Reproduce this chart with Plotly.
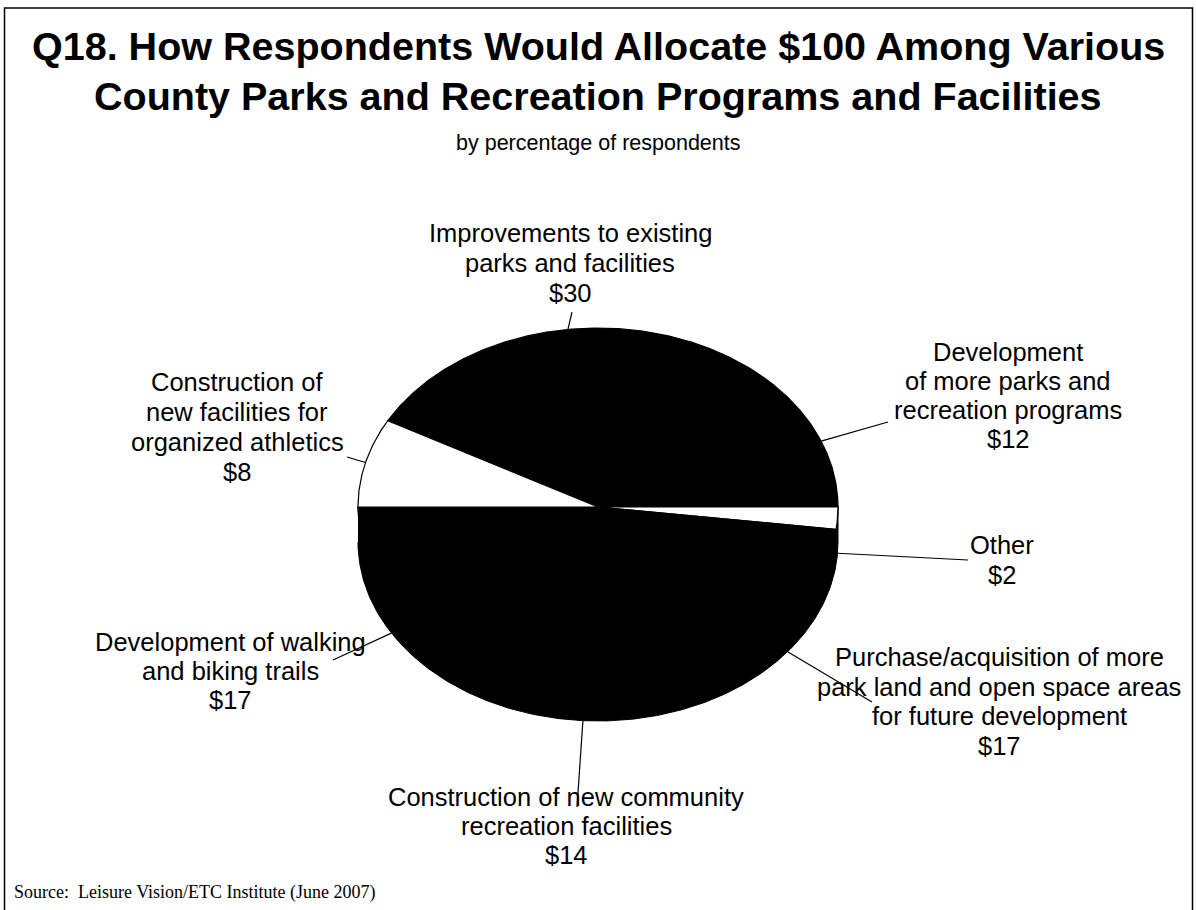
import numpy as np
import plotly.graph_objects as go

# ---------------- data ----------------
categories = [
    "Improvements to existing\nparks and facilities",
    "Development\nof more parks and\nrecreation programs",
    "Other",
    "Purchase/acquisition of more\npark land and open space areas\nfor future development",
    "Construction of new community\nrecreation facilities",
    "Development of walking\nand biking trails",
    "Construction of\nnew facilities for\norganized athletics",
]
values = [30, 12, 2, 17, 14, 17, 8]

title_lines = [
    "Q18. How Respondents Would Allocate $100 Among Various",
    "County Parks and Recreation Programs and Facilities",
]
subtitle = "by percentage of respondents"
source = "Source:  Leisure Vision/ETC Institute (June 2007)"

# ---------------- styling / layout ----------------
slice_colors = ["black", "black", "white", "black", "black", "black", "white"]
W, H = 1196, 910
CX, CY, RX, RY, DEPTH = 598, 507, 240, 179, 35
START_ANGLE = 151.2  # degrees, counter-clockwise from 3 o'clock; slices run clockwise

# label placement: (center x, first line y, line pitch)
label_pos = [
    (570, 233, 30),
    (1008, 352, 29),
    (1002, 545, 30),
    (999, 657, 29.5),
    (566, 797, 29),
    (230, 642, 29),
    (237, 382, 30),
]
# outer end of each leader line
leader_end = [
    (572, 312),
    (888, 422),
    (968, 560),
    (872, 702),
    (577, 807),
    (333, 660),
    (347, 457),
]

LABEL_FONT = dict(family="Liberation Sans, Arial, sans-serif", size=25.5, color="black")

fig = go.Figure()

# 3D side wall of the pie (lower half)
t = np.linspace(np.pi, 2 * np.pi, 300)
top_x = CX + RX * np.cos(t)
top_y = CY - RY * np.sin(t)
fig.add_trace(go.Scatter(
    x=np.concatenate([top_x, top_x[::-1]]),
    y=np.concatenate([top_y, top_y[::-1] + DEPTH]),
    fill="toself", fillcolor="black", mode="lines",
    line=dict(color="black", width=1), hoverinfo="skip", showlegend=False,
))

total = float(sum(values))
cum = 0.0
annotations = []
for name, v, col, (lx, ly, pitch), (ex, ey) in zip(categories, values, slice_colors, label_pos, leader_end):
    a0 = START_ANGLE - cum / total * 360.0
    a1 = a0 - v / total * 360.0
    cum += v
    tt = np.radians(np.linspace(a0, a1, max(3, int(abs(a1 - a0) * 3))))
    xs = np.concatenate([[CX], CX + RX * np.cos(tt), [CX]])
    ys = np.concatenate([[CY], CY - RY * np.sin(tt), [CY]])
    fig.add_trace(go.Scatter(
        x=xs, y=ys, fill="toself", fillcolor=col, mode="lines",
        line=dict(color="black", width=1.2), name=name.replace("\n", " "),
        hoverinfo="name", showlegend=False,
    ))
    # leader line from slice mid-angle on the rim
    mid = np.radians((a0 + a1) / 2.0)
    sx = CX + RX * np.cos(mid)
    sy = CY - RY * np.sin(mid) + (DEPTH if np.sin(mid) < 0 else 0)
    fig.add_trace(go.Scatter(
        x=[sx, ex], y=[sy, ey], mode="lines",
        line=dict(color="black", width=1.2), hoverinfo="skip", showlegend=False,
    ))
    lines = name.split("\n") + [f"${v:g}"]
    for i, txt in enumerate(lines):
        annotations.append(dict(
            x=lx, y=ly + i * pitch, xref="x", yref="y", text=txt,
            showarrow=False, xanchor="center", yanchor="middle", font=LABEL_FONT,
        ))

# title, subtitle, source
for i, txt in enumerate(title_lines):
    annotations.append(dict(
        x=598, y=46 + i * 50, xref="x", yref="y", text=f"<b>{txt}</b>",
        showarrow=False, xanchor="center", yanchor="middle",
        font=dict(family="Liberation Sans, Arial, sans-serif", size=39.5, color="black"),
    ))
annotations.append(dict(
    x=598, y=143, xref="x", yref="y", text=subtitle, showarrow=False,
    xanchor="center", yanchor="middle",
    font=dict(family="Liberation Sans, Arial, sans-serif", size=21.5, color="black"),
))
annotations.append(dict(
    x=12, y=892, xref="x", yref="y", text=source, showarrow=False,
    xanchor="left", yanchor="middle",
    font=dict(family="Liberation Serif, Times New Roman, serif", size=18, color="black"),
))

fig.update_layout(
    width=W, height=H,
    margin=dict(l=0, r=0, t=0, b=0),
    paper_bgcolor="white", plot_bgcolor="white",
    xaxis=dict(range=[0, W], visible=False, fixedrange=True),
    yaxis=dict(range=[H, 0], visible=False, fixedrange=True),
    annotations=annotations,
    shapes=[dict(type="path", xref="x", yref="y",
                 path="M 4.5 912 L 4.5 8 L 1192.5 8 L 1192.5 912",
                 line=dict(color="black", width=1.5), layer="above")],
    showlegend=False,
)

fig.write_html(
    "out.html",
    config={"displayModeBar": False},
    post_script="document.body.style.margin='0';document.body.style.overflow='hidden';",
)
